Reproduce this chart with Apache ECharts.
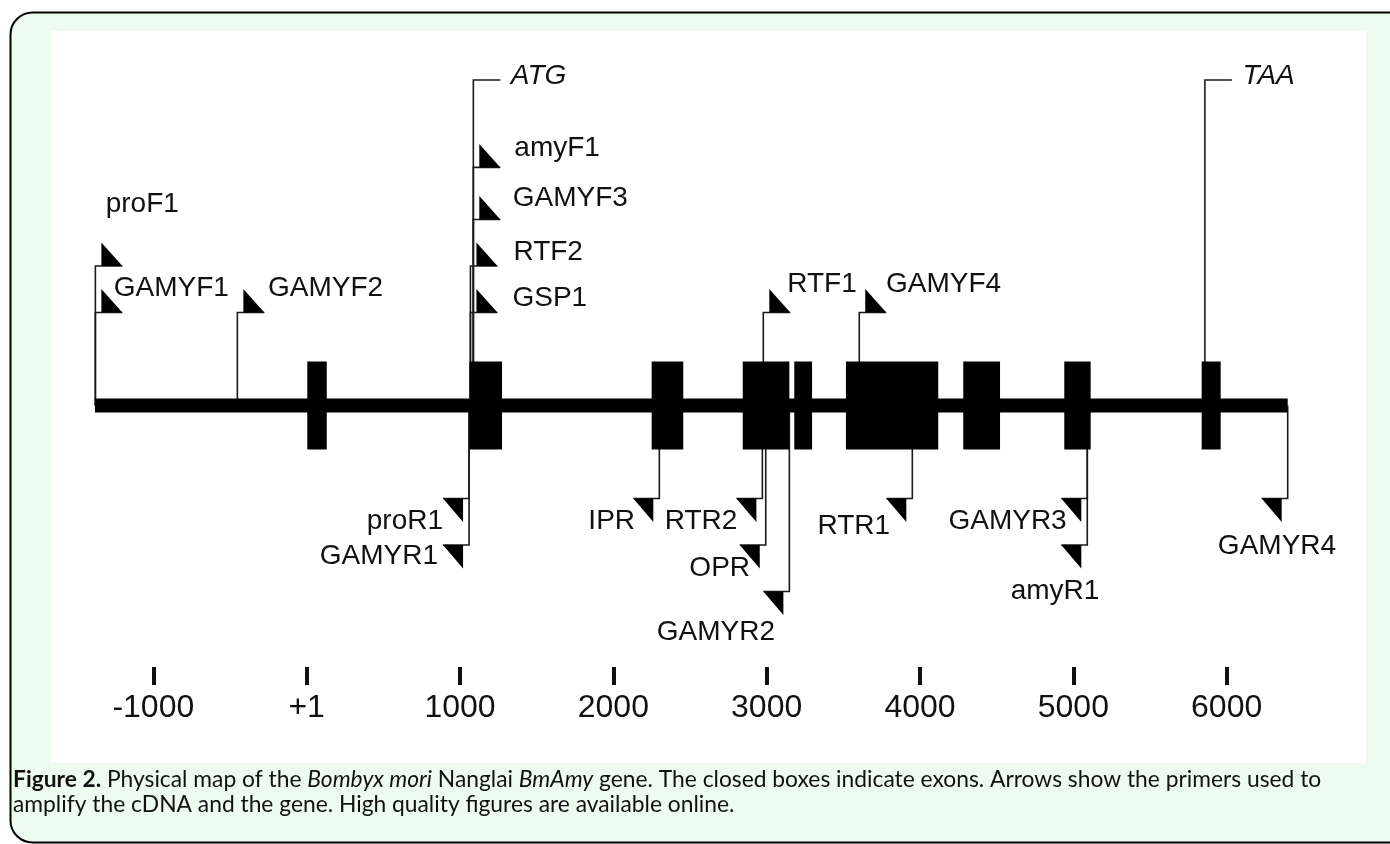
<!DOCTYPE html>
<html><head><meta charset="utf-8">
<script src="https://cdn.jsdelivr.net/npm/echarts@6/dist/echarts.min.js"></script>
<style>html,body{margin:0;padding:0;background:#fff}#c{width:1390px;height:844px}</style>
</head><body><div id="c"></div>
<script>
// ---------------- data ----------------
const geneSpan = [-1381, 6398];
const exonStarts = [4, 1061, 2250, 2844, 3180, 3517, 4282, 4941, 5837];
const exonEnds   = [131, 1274, 2456, 3148, 3296, 4119, 4522, 5113, 5961];
const primerNames = ['proF1','GAMYF1','GAMYF2','amyF1','GAMYF3','RTF2','GSP1','RTF1','GAMYF4',
                     'proR1','GAMYR1','IPR','RTR2','OPR','GAMYR2','RTR1','GAMYR3','amyR1','GAMYR4'];
const primerPositions = [-1378,-1378,-452,1087,1087,1068,1068,2978,3604,
                         1059,1059,2300,2972,2994,3148,3950,5091,5091,6398];
const landmarkNames = ['ATG','TAA'];
const landmarkPositions = [1087, 5858];
const tickValues = [-1000,0,1000,2000,3000,4000,5000,6000];
const tickLabels = ['-1000','+1','1000','2000','3000','4000','5000','6000'];

// ---------------- layout (drawing only) ----------------
// flag rows: + above the gene line, - below it
const primerRows = [3,2,2,5.12,4,3,2,2,2, -2,-3,-2,-2,-3,-4,-2,-2,-3,-2];
const landmarkRow = 7;
// label offsets from the flag corner: [dx, dy, align]
const labelLayout = [
  [10.3,-62,'left'],[18.3,-24.5,'left'],[30.7,-24.5,'left'],[41,-19.4,'left'],[39.4,-21,'left'],
  [43,-14,'left'],[42,-14,'left'],[24,-28,'left'],[26.7,-28,'left'],
  [-26,22.5,'right'],[-31,11,'right'],[-24.3,22.3,'right'],[-25,22.3,'right'],[-15.7,23,'right'],
  [-14.3,41,'right'],[-22.3,27.3,'right'],[-20.6,23.2,'right'],[-32.3,46.3,'center'],[-10.7,48.2,'center']
];
const LINE_Y = 405.5, AXIS_Y = 667, ROW = 46.5, Y_MAX = 8;
const LABEL_FONT = '"Liberation Sans", Arial, sans-serif';
const INK = '#111';

const chart = echarts.init(document.getElementById('c'), null, {renderer: 'canvas'});

// caption font fitted to the original line width
const cctx = document.createElement('canvas').getContext('2d');
function tw(t, st, s){ cctx.font = st + ' ' + s + 'px Lato'; return cctx.measureText(t).width; }
const cap1Parts = [['Figure 2.','bold'],[' Physical map of the ','normal'],['Bombyx mori','italic'],[' Nanglai ','normal'],['BmAmy','italic'],[' gene. The closed boxes indicate exons. Arrows show the primers used to','normal']];
let w20 = 0; cap1Parts.forEach(p => w20 += tw(p[0], p[1], 20));
const capFs = 20 * 1309 / w20;
const capRich = {
  b: {fontWeight: 'bold', fontSize: capFs, fontFamily: 'Lato', fill: INK},
  i: {fontStyle: 'italic', fontSize: capFs, fontFamily: 'Lato', fill: INK}
};

function renderPrimer(params, api) {
  const i = api.value(2);
  const lvl = api.value(1);
  const base = api.coord([api.value(0), 0]);
  const flag = api.coord([api.value(0), lvl]);
  const x = flag[0], y = flag[1];
  const fwd = lvl > 0;
  const lay = labelLayout[i];
  return {
    type: 'group',
    children: [
      {type: 'polyline', shape: {points: [[x, base[1]], [x, y], [fwd ? x + 27 : x - 26, y]]},
       style: {stroke: '#1a1a1a', lineWidth: 1.6, fill: null}},
      {type: 'polygon', shape: {points: fwd ? [[x + 6, y - 23.5], [x + 6, y], [x + 27, y]]
                                            : [[x - 26, y], [x - 6, y], [x - 6, y + 23.5]]},
       style: {fill: '#000'}},
      {type: 'text', x: x + lay[0], y: y + lay[1],
       style: {text: primerNames[i], fontSize: 28, fontFamily: LABEL_FONT, fill: INK,
               align: lay[2], verticalAlign: 'middle'}}
    ]
  };
}
function renderLandmark(params, api) {
  const i = api.value(2);
  const base = api.coord([api.value(0), 0]);
  const top = api.coord([api.value(0), api.value(1)]);
  const x = top[0], y = top[1];
  return {
    type: 'group',
    children: [
      {type: 'polyline', shape: {points: [[x, base[1]], [x, y], [x + 27, y]]},
       style: {stroke: '#1a1a1a', lineWidth: 1.6, fill: null}},
      {type: 'text', x: x + 37.5, y: y - 4,
       style: {text: landmarkNames[i], fontSize: 28, fontStyle: 'italic', fontFamily: LABEL_FONT,
               fill: INK, align: 'left', verticalAlign: 'middle'}}
    ]
  };
}
function bandRenderer(h) {
  return function (params, api) {
    const a = api.coord([api.value(0), 0]);
    const b = api.coord([api.value(1), 0]);
    return {type: 'rect', shape: {x: a[0], y: a[1] - h / 2, width: b[0] - a[0], height: h},
            style: {fill: '#000'}};
  };
}

const yMin = -(AXIS_Y - LINE_Y) / ROW;
const option = {
  animation: false,
  backgroundColor: 'transparent',
  grid: {left: 0, right: 10, top: LINE_Y - Y_MAX * ROW, bottom: 844 - AXIS_Y},
  xAxis: {
    type: 'value', min: -2000, max: 7000, position: 'bottom',
    axisLine: {show: false, onZero: false}, splitLine: {show: false},
    axisTick: {show: true, customValues: tickValues, length: 18, inside: false,
               lineStyle: {width: 4, color: INK}},
    axisLabel: {customValues: tickValues, fontSize: 32, fontFamily: LABEL_FONT, color: INK,
                margin: 41.5, verticalAlign: 'middle',
                formatter: v => tickLabels[tickValues.indexOf(v)]}
  },
  yAxis: {type: 'value', min: yMin, max: Y_MAX, show: false},
  graphic: [
    {type: 'rect', z: -10, shape: {x: 10.5, y: 12.5, width: 1420, height: 830, r: 22},
     style: {fill: '#edfcef', stroke: '#000', lineWidth: 2}},
    {type: 'rect', z: -9, shape: {x: 51, y: 31, width: 1315, height: 732}, style: {fill: '#fff'}},
    {type: 'text', z: 10, x: 13, y: 780,
     style: {text: '{b|Figure 2.} Physical map of the {i|Bombyx mori} Nanglai {i|BmAmy} gene. The closed boxes indicate exons. Arrows show the primers used to',
             fontSize: capFs, fontFamily: 'Lato', fill: INK, verticalAlign: 'middle', rich: capRich}},
    {type: 'text', z: 10, x: 13, y: 805,
     style: {text: 'amplify the cDNA and the gene. High quality figures are available online.',
             fontSize: capFs, fontFamily: 'Lato', fill: INK, verticalAlign: 'middle'}}
  ],
  series: [
    {type: 'custom', name: 'primers', z: 2, clip: false, renderItem: renderPrimer,
     data: primerPositions.map((p, i) => [p, primerRows[i], i])},
    {type: 'custom', name: 'landmarks', z: 2, clip: false, renderItem: renderLandmark,
     data: landmarkPositions.map((p, i) => [p, landmarkRow, i])},
    {type: 'custom', name: 'gene', z: 3, clip: false, renderItem: bandRenderer(14),
     data: [geneSpan]},
    {type: 'custom', name: 'exons', z: 4, clip: false, renderItem: bandRenderer(88),
     data: exonStarts.map((s, i) => [s, exonEnds[i]])}
  ]
};
chart.setOption(option);
</script>
</body></html>
